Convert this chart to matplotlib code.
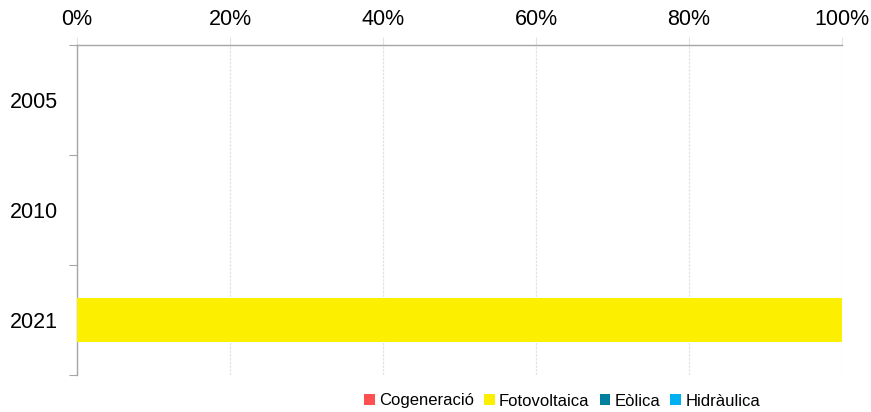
import matplotlib
matplotlib.use("Agg")
import matplotlib.pyplot as plt
from matplotlib.ticker import FuncFormatter, FixedLocator
import numpy as np

plt.rcParams['font.family'] = ['Liberation Sans', 'DejaVu Sans']

years = ["2005", "2010", "2021"]
series = ["Cogeneració", "Fotovoltaica", "Eòlica", "Hidràulica"]
cogeneracio = [0, 0, 0]
fotovoltaica = [0, 0, 100]
eolica = [0, 0, 0]
hidraulica = [0, 0, 0]
colors = ["#FF5050", "#FCF000", "#00809F", "#00B0F0"]

values = [cogeneracio, fotovoltaica, eolica, hidraulica]
totals = np.sum(values, axis=0).astype(float)
totals[totals == 0] = 1

fig = plt.figure(figsize=(8.71, 4.12), dpi=100)
ax = fig.add_axes([77 / 871, 1 - 375 / 412, (842 - 77) / 871, (375 - 45) / 412])

pos = np.arange(len(years))
left = np.zeros(len(years))
for name, vals, col in zip(series, values, colors):
    share = np.array(vals) / totals * 100
    ax.barh(pos, share, left=left, height=0.4, color=col, label=name, zorder=3)
    left += share

ax.set_xlim(0, 100)
ax.set_ylim(len(years) - 0.5, -0.5)

ax.xaxis.tick_top()
ax.set_xticks(np.arange(0, 101, 20))
ax.xaxis.set_major_formatter(FuncFormatter(lambda v, p: f"{v:.0f}%"))
ax.tick_params(axis='x', which='major', length=6, color='#E3E3E3', pad=5,
               labelsize=15.5, labelcolor='black')
ax.grid(axis='x', color='#E3E3E3', linestyle=(0, (2, 1)), linewidth=0.9, zorder=0)

ax.yaxis.set_major_locator(FixedLocator(np.arange(-0.5, len(years), 1)))
ax.yaxis.set_major_formatter(FuncFormatter(lambda v, p: ""))
ax.yaxis.set_minor_locator(FixedLocator(pos))
ax.set_yticklabels(years, minor=True)
ax.tick_params(axis='y', which='major', length=6, color='#A6A6A6')
ax.tick_params(axis='y', which='minor', length=0, pad=14, labelsize=15.5)

for s in ['right', 'bottom']:
    ax.spines[s].set_visible(False)
for s in ['top', 'left']:
    ax.spines[s].set_color('#A6A6A6')
    ax.spines[s].set_linewidth(1)

leg = fig.legend(loc='center', bbox_to_anchor=(562 / 871, 1 - 401 / 412), ncol=4,
                 frameon=False, fontsize=12, handlelength=0.65, handleheight=0.65,
                 handletextpad=0.25, columnspacing=0.6)

fig.savefig("out.png", dpi=100)
